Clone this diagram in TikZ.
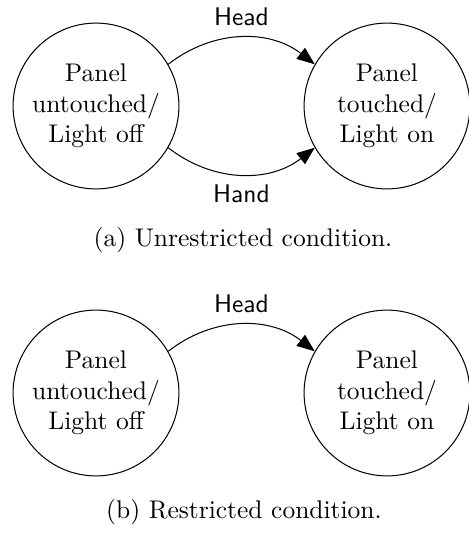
\documentclass[tikz,border=0pt]{standalone}
\usetikzlibrary{arrows.meta}
\begin{document}
\begin{tikzpicture}[x=0.392pt,y=-0.392pt,
  state/.style={circle,draw,line width=0.4pt,minimum size=65pt,inner sep=0pt,
    align=center,font=\normalsize},
  trans/.style={-{Triangle[length=7pt,width=5.4pt]},line width=0.4pt},
  lbl/.style={font=\sffamily\normalsize},
  caption/.style={font=\normalsize}]
\useasboundingbox (0,0) rectangle (469,535);

% (a) unrestricted condition
\node[state] (a1) at (96,106) {Panel\\untouched/\\Light off};
\node[state] (a2) at (387,106) {Panel\\touched/\\Light on};
\draw[trans] (a1.30) to[out=38,in=142]
  node[midway,above=1.4pt,lbl] (ahead) {Head} (a2.150);
\draw[trans] (a1.-30) to[out=-38,in=-142]
  node[midway,below=0.6pt,lbl] (ahand) {Hand} (a2.-150);
\node[caption] (capa) at (243,240) {(a) Unrestricted condition.};

% (b) restricted condition
\node[state] (b1) at (96,393) {Panel\\untouched/\\Light off};
\node[state] (b2) at (387,393) {Panel\\touched/\\Light on};
\draw[trans] (b1.30) to[out=38,in=142]
  node[midway,above=1.4pt,lbl] (bhead) {Head} (b2.150);
\node[caption] (capb) at (244,512) {(b) Restricted condition.};
\end{tikzpicture}
\end{document}
